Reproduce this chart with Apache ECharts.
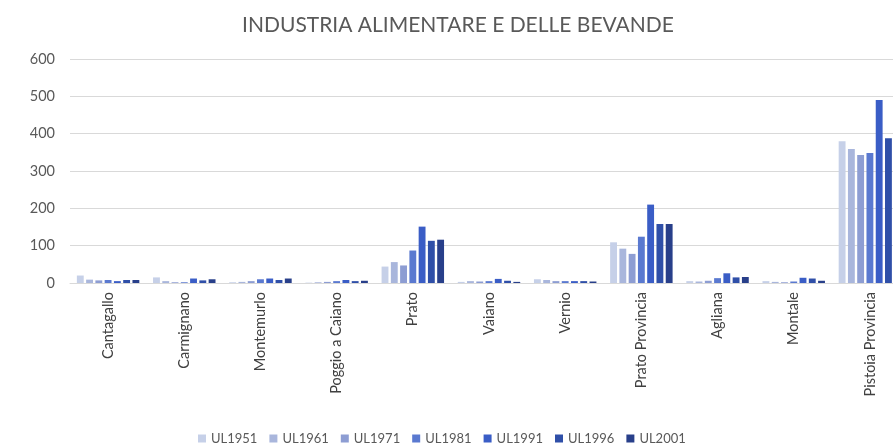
<!DOCTYPE html>
<html>
<head>
<meta charset="utf-8">
<script src="https://cdn.jsdelivr.net/npm/echarts@6/dist/echarts.min.js"></script>
<style>
  html, body { margin: 0; padding: 0; background: #fff; }
  #chart { width: 893px; height: 445px; }
</style>
</head>
<body>
<div id="chart"></div>
<script>
// categorie (comuni / province)
var categories = ['Cantagallo', 'Carmignano', 'Montemurlo', 'Poggio a Caiano', 'Prato',
  'Vaiano', 'Vernio', 'Prato Provincia', 'Agliana', 'Montale', 'Pistoia Provincia'];

var seriesNames = ['UL1951', 'UL1961', 'UL1971', 'UL1981', 'UL1991', 'UL1996', 'UL2001'];

// valori, uno per serie
var ul1951 = [20, 15, 2, 1, 44, 3, 10, 109, 5, 5, 380];
var ul1961 = [9, 5, 3, 2, 56, 5, 8, 92, 4, 3, 359];
var ul1971 = [7, 2, 5, 3, 47, 4, 5, 78, 6, 2, 343];
var ul1981 = [8, 2, 10, 5, 87, 5, 5, 124, 13, 4, 348];
var ul1991 = [5, 12, 12, 8, 151, 11, 5, 210, 26, 14, 490];
var ul1996 = [8, 7, 8, 5, 113, 6, 5, 158, 15, 12, 388];
var ul2001 = [8, 10, 12, 6, 116, 3, 4, 158, 16, 6, 379];

var yTicks = [0, 100, 200, 300, 400, 500, 600];

var colors = ['#c6d0e8', '#a9b6dc', '#8d9dd3', '#5a79d0', '#3a5dc6', '#2f4fa8', '#283f8a'];

var allData = [ul1951, ul1961, ul1971, ul1981, ul1991, ul1996, ul2001];

var myChart = echarts.init(document.getElementById('chart'));

var series = seriesNames.map(function (name, i) {
  return {
    name: name,
    type: 'bar',
    data: allData[i],
    barGap: '35%',
    barCategoryGap: '18%',
    itemStyle: { color: colors[i] }
  };
});

myChart.setOption({
  animation: false,
  textStyle: { fontFamily: 'Lato, "Open Sans", sans-serif' },
  title: {
    text: 'INDUSTRIA ALIMENTARE E DELLE BEVANDE',
    left: 453,
    textAlign: 'center',
    top: 10,
    textStyle: { color: '#595959', fontSize: 21, fontWeight: 'normal' }
  },
  legend: {
    data: seriesNames,
    left: 193,
    top: 427,
    itemWidth: 8,
    itemHeight: 8,
    itemGap: 12,
    icon: 'rect',
    textStyle: { color: '#595959', fontSize: 13 }
  },
  grid: {
    left: 70,
    right: -15,
    top: 59,
    bottom: 162,
    containLabel: false,
    outerBoundsMode: 'none'
  },
  xAxis: {
    type: 'category',
    data: categories,
    axisTick: { show: false },
    axisLine: { lineStyle: { color: '#d9d9d9' } },
    axisLabel: {
      rotate: 90,
      interval: 0,
      color: '#404040',
      fontSize: 14.5,
      margin: 9
    }
  },
  yAxis: {
    type: 'value',
    min: yTicks[0],
    max: yTicks[yTicks.length - 1],
    interval: 100,
    axisLine: { show: false },
    axisTick: { show: false },
    axisLabel: { color: '#595959', fontSize: 14.5, margin: 15 },
    splitLine: { lineStyle: { color: '#d9d9d9' } }
  },
  series: series
});
</script>
</body>
</html>
